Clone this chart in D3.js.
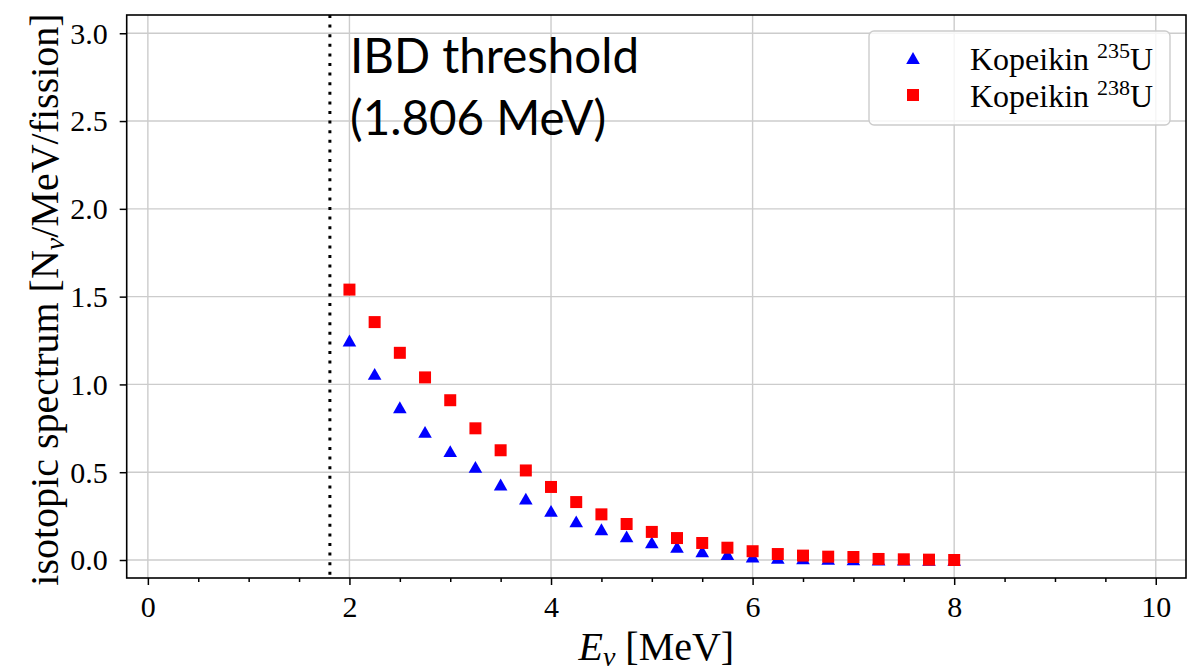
<!DOCTYPE html>
<html>
<head>
<meta charset="utf-8">
<script src="https://cdn.jsdelivr.net/npm/d3@7"></script>
<style>
  body { margin: 0; background: #fff; }
  svg text { fill: #000; }
</style>
</head>
<body>
<script>
const width = 1196;
const height = 671;

// neutrino energies [MeV]
const energies = [2.0, 2.25, 2.5, 2.75, 3.0, 3.25, 3.5, 3.75, 4.0, 4.25, 4.5, 4.75, 5.0,
  5.25, 5.5, 5.75, 6.0, 6.25, 6.5, 6.75, 7.0, 7.25, 7.5, 7.75, 8.0];

// Kopeikin spectra [N_nu / MeV / fission]
const u235 = [1.25, 1.06, 0.87, 0.73, 0.62, 0.53, 0.43, 0.35, 0.28, 0.22, 0.175, 0.135, 0.10,
  0.075, 0.05, 0.034, 0.02, 0.013, 0.009, 0.006, 0.004, 0.003, 0.002, 0.001, 0.001];
const u238 = [1.54, 1.355, 1.18, 1.04, 0.91, 0.75, 0.625, 0.51, 0.416, 0.33, 0.26, 0.205, 0.16,
  0.125, 0.097, 0.07, 0.05, 0.034, 0.025, 0.019, 0.017, 0.006, 0.004, 0.002, 0.0];

const ibdThreshold = 1.806;

const xTicks = [0, 2, 4, 6, 8, 10];
const xMinorTicks = [0.5, 1, 1.5, 2.5, 3, 3.5, 4.5, 5, 5.5, 6.5, 7, 7.5, 8.5, 9, 9.5];
const yTicks = [0, 0.5, 1.0, 1.5, 2.0, 2.5, 3.0];

const series = [
  { name: "235", values: u235, color: "blue", shape: "triangle" },
  { name: "238", values: u238, color: "red", shape: "square" }
];

const plot = { left: 126.7, right: 1186, top: 15, bottom: 578 };
const serif = "'Liberation Serif', 'Times New Roman', serif";

const x = d3.scaleLinear().domain([-0.21, 10.3]).range([plot.left, plot.right]);
const y = d3.scaleLinear().domain([-0.1025, 3.104]).range([plot.bottom, plot.top]);

// matplotlib style "^" marker, centred on its bounding box
const triangleUp = {
  draw(context, size) {
    const w = Math.sqrt(size) * 1.15;
    const h = Math.sqrt(size);
    context.moveTo(0, -h / 2);
    context.lineTo(w / 2, h / 2);
    context.lineTo(-w / 2, h / 2);
    context.closePath();
  }
};
const symbolFor = shape => shape === "triangle"
  ? d3.symbol(triangleUp, 140)
  : d3.symbol(d3.symbolSquare, 144);

const svg = d3.select("body")
  .append("svg")
  .attr("width", width)
  .attr("height", height);

// grid
svg.append("g")
  .selectAll("line")
  .data(xTicks)
  .join("line")
  .attr("x1", d => x(d)).attr("x2", d => x(d))
  .attr("y1", plot.top).attr("y2", plot.bottom)
  .attr("stroke", "#cccccc")
  .attr("stroke-width", 1.4);

svg.append("g")
  .selectAll("line")
  .data(yTicks)
  .join("line")
  .attr("x1", plot.left).attr("x2", plot.right)
  .attr("y1", d => y(d)).attr("y2", d => y(d))
  .attr("stroke", "#cccccc")
  .attr("stroke-width", 1.4);

// threshold line
svg.append("line")
  .attr("x1", x(ibdThreshold)).attr("x2", x(ibdThreshold))
  .attr("y1", plot.top).attr("y2", plot.bottom)
  .attr("stroke", "#000")
  .attr("stroke-width", 3)
  .attr("stroke-dasharray", "3,6.6");

// points
series.forEach(s => {
  svg.append("g")
    .selectAll("path")
    .data(s.values)
    .join("path")
    .attr("d", symbolFor(s.shape))
    .attr("transform", (d, i) => `translate(${x(energies[i])},${y(d)})`)
    .attr("fill", s.color);
});

// axes
const xAxis = svg.append("g")
  .attr("transform", `translate(0,${plot.bottom})`)
  .call(d3.axisBottom(x).tickValues(xTicks).tickFormat(d3.format("d")).tickSize(7).tickSizeOuter(0));
xAxis.selectAll("text")
  .attr("y", 39).attr("dy", null)
  .style("font-family", serif).style("font-size", "30px");

svg.append("g")
  .attr("transform", `translate(0,${plot.bottom})`)
  .call(d3.axisBottom(x).tickValues(xMinorTicks).tickFormat("").tickSize(4).tickSizeOuter(0))
  .call(g => g.select(".domain").remove());

const yAxis = svg.append("g")
  .attr("transform", `translate(${plot.left},0)`)
  .call(d3.axisLeft(y).tickValues(yTicks).tickFormat(d3.format(".1f")).tickSize(7).tickSizeOuter(0));
yAxis.selectAll("text")
  .attr("x", -19).attr("dy", "0.33em")
  .style("font-family", serif).style("font-size", "30px");

svg.selectAll(".tick line").attr("stroke-width", 1.5);
svg.selectAll(".domain").remove();

// frame
svg.append("rect")
  .attr("x", plot.left).attr("y", plot.top)
  .attr("width", plot.right - plot.left)
  .attr("height", plot.bottom - plot.top)
  .attr("fill", "none")
  .attr("stroke", "#000")
  .attr("stroke-width", 1.6);

// axis labels
const xLabel = svg.append("text")
  .attr("x", (plot.left + plot.right) / 2)
  .attr("y", 660)
  .attr("text-anchor", "middle")
  .style("font-family", serif)
  .style("font-size", "40px");
xLabel.append("tspan").style("font-style", "italic").text("E");
xLabel.append("tspan").style("font-style", "italic").style("font-size", "28px").attr("dy", 6).text("ν");
xLabel.append("tspan").attr("dy", -6).text(" [MeV]");

const yLabel = svg.append("text")
  .attr("transform", `translate(58,${(plot.top + plot.bottom) / 2 + 3}) rotate(-90)`)
  .attr("text-anchor", "middle")
  .style("font-family", serif)
  .style("font-size", "40px");
yLabel.append("tspan").text("isotopic spectrum [N");
yLabel.append("tspan").style("font-style", "italic").style("font-size", "28px").attr("dy", 6).text("ν");
yLabel.append("tspan").attr("dy", -6).text("/MeV/fission]");

// threshold annotation
const note = svg.append("text")
  .style("font-family", "Lato, 'Open Sans', sans-serif")
  .style("font-size", "47.5px");
note.append("tspan").attr("x", 350).attr("y", 73).text("IBD threshold");
note.append("tspan").attr("x", 350).attr("y", 135).text("(1.806 MeV)");

// legend
const legend = svg.append("g");
legend.append("rect")
  .attr("x", 869).attr("y", 31)
  .attr("width", 301).attr("height", 94)
  .attr("rx", 5)
  .attr("fill", "#fff").attr("fill-opacity", 0.8)
  .attr("stroke", "#cccccc").attr("stroke-width", 1.4);

const item = legend.selectAll("g.item")
  .data(series)
  .join("g")
  .attr("class", "item")
  .attr("transform", (d, i) => `translate(0,${i * 37})`);

item.append("path")
  .attr("d", d => symbolFor(d.shape)())
  .attr("transform", "translate(913,58)")
  .attr("fill", d => d.color);

const itemText = item.append("text")
  .attr("x", 970).attr("y", 70)
  .style("font-family", serif)
  .style("font-size", "32px");
itemText.append("tspan").text("Kopeikin ");
itemText.append("tspan").style("font-size", "22px").attr("dy", -12).text(d => d.name);
itemText.append("tspan").attr("dy", 12).text("U");
</script>
</body>
</html>
